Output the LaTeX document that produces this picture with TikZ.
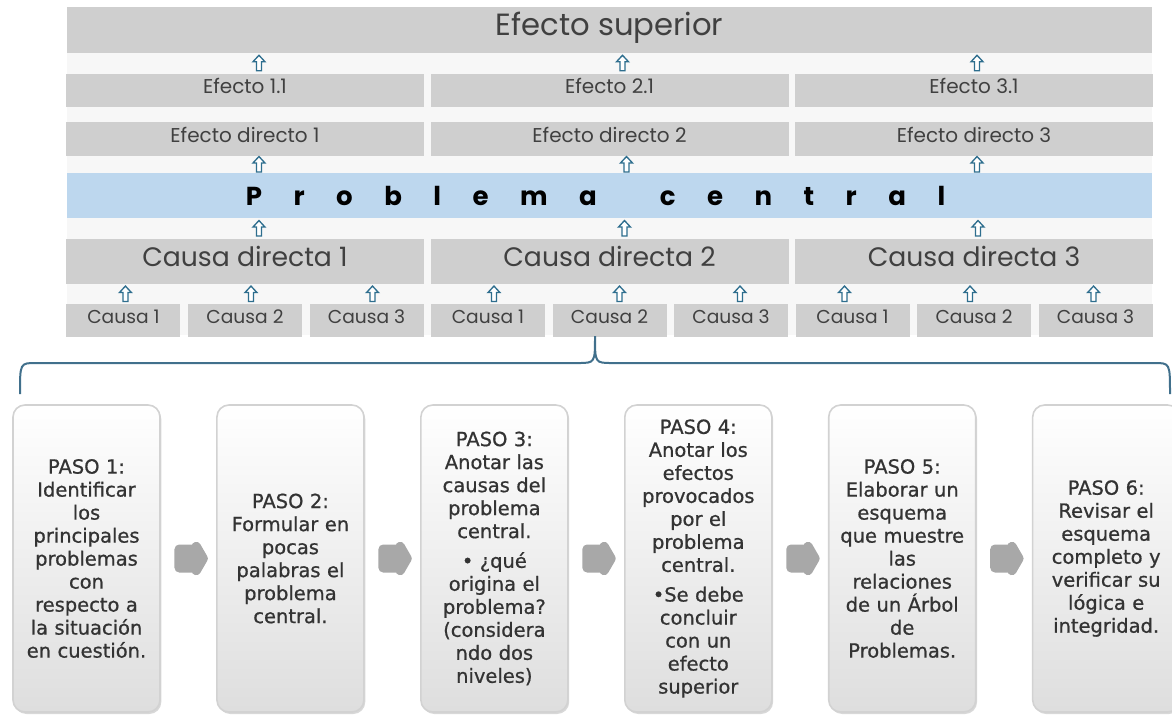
\documentclass[tikz,border=0pt]{standalone}
\usepackage{fontspec}
\setmainfont{Poppins}
\newfontfamily\stepfont[FakeBold=0.8]{DejaVu Sans}
\newfontfamily\spacedfont[LetterSpace=100]{Poppins}
\usetikzlibrary{shapes, arrows.meta, positioning, calc, shadows}

\definecolor{boxgray}{HTML}{CFCFCF}
\definecolor{txtgray}{HTML}{404040}
\definecolor{probblue}{HTML}{BDD7EE}
\definecolor{arrowblue}{HTML}{2E6E8E}
\definecolor{bracecol}{HTML}{41708C}

% small hollow arrow between two levels of the tree
\newcommand{\lift}[3]{\pic at ($(#1)!.5!(#1 |- #2)+(#3,0)$) {uparr};}

\begin{document}
\begin{tikzpicture}[
    x=0.75pt, y=-0.75pt,
    band/.style={rectangle, fill=boxgray, text=txtgray, inner sep=0pt},
    supband/.style={band, minimum width=813.75pt, minimum height=34.5pt, font=\fontsize{23}{26}\selectfont, text height=16.5pt, text depth=8.5pt},
    efband/.style={band, minimum width=268.5pt, minimum height=25pt, font=\fontsize{15}{17}\selectfont, text height=11pt, text depth=6.5pt},
    pcband/.style={band, fill=probblue, text=black, minimum width=813.75pt, minimum height=33.75pt, font=\spacedfont\bfseries\fontsize{19.5}{22}\selectfont},
    cdband/.style={band, minimum width=268.5pt, minimum height=33.75pt, font=\fontsize{20}{23}\selectfont, text height=15pt, text depth=7.8pt},
    caband/.style={band, minimum width=85.5pt, minimum height=24.75pt, font=\fontsize{14}{17}\selectfont, text height=10.5pt, text depth=6.5pt},
    stepbox/.style={rectangle, rounded corners=9pt, draw=gray!35, line width=1.2pt, top color=white, middle color=white, bottom color=black!13, drop shadow={shadow xshift=1pt, shadow yshift=-1.5pt, fill=gray!60, opacity=.5}, minimum width=110.25pt, minimum height=230.25pt, inner sep=1pt, text width=106pt, align=center, font=\stepfont\fontsize{14.6}{17.25}\selectfont, text=black!80},
    blob/.style={single arrow, fill=gray!68, draw=gray!68, line width=7pt, line join=round, minimum width=18pt, minimum height=18pt, single arrow head extend=1pt, single arrow tip angle=120, inner sep=0pt},
    brace/.style={draw=bracecol, line width=1.5pt},
    uparr/.pic={\draw[arrowblue, fill=white, line width=1pt, line join=miter] (0,-8) -- (6,-1.5) -- (2.5,-1.5) -- (2.5,7.5) -- (-2.5,7.5) -- (-2.5,-1.5) -- (-6,-1.5) -- cycle;}
]
    \useasboundingbox (0,0) rectangle (1172,715);
    \clip (0,0) rectangle (1172,715);
    \fill[black!3] (67,7) rectangle (1152,335);

    % tree of problems
    \node[supband] (sup) at (609.5,30) {Efecto superior};
    \node[efband, below=15pt of sup] (ef2) {Efecto 2.1};
    \node[efband, left=4.5pt of ef2] (ef1) {Efecto 1.1};
    \node[efband, right=4.5pt of ef2] (ef3) {Efecto 3.1};
    \node[efband, below=11.25pt of ef2] (ed2) {Efecto directo 2};
    \node[efband, left=4.5pt of ed2] (ed1) {Efecto directo 1};
    \node[efband, right=4.5pt of ed2] (ed3) {Efecto directo 3};
    \node[pcband, below=12.75pt of ed2] (pc) {P r o b l e m a \ c e n t r a l\kern21pt};
    \node[cdband, below=15pt of pc] (cd2) {Causa directa 2};
    \node[cdband, left=4.5pt of cd2] (cd1) {Causa directa 1};
    \node[cdband, right=4.5pt of cd2] (cd3) {Causa directa 3};
    \foreach \i in {1,2,3} {
        \node[caband, below=15pt of cd\i] (ca\i2) {Causa 2};
        \node[caband, left=5.25pt of ca\i2] (ca\i1) {Causa 1};
        \node[caband, right=5.25pt of ca\i2] (ca\i3) {Causa 3};
    }

    \lift{ef1.north}{sup.south}{14}
    \lift{ef2.north}{sup.south}{13}
    \lift{ef3.north}{sup.south}{3}
    \lift{ed1.south}{pc.north}{14}
    \lift{ed2.south}{pc.north}{17}
    \lift{ed3.south}{pc.north}{3}
    \lift{cd1.north}{pc.south}{14}
    \lift{cd2.north}{pc.south}{15}
    \lift{cd3.north}{pc.south}{4}
    \foreach \c/\a/\b/\d in {1/2/6/6, 2/6/10/9, 3/-8/-4/-2} {
        \lift{ca\c1.north}{cd\c.south}{\a}
        \lift{ca\c2.north}{cd\c.south}{\b}
        \lift{ca\c3.north}{cd\c.south}{\d}
    }

    % brace
    \draw[brace] (20,394) .. controls (20,363) .. (36,363) -- (578,363) .. controls (595,363) .. (595,336) .. controls (595,363) .. (612,363) -- (1154,363) .. controls (1170,363) .. (1170,394);

    % steps
    \node[stepbox] (s1) at (86.5,558.5) {PASO 1:\\Identificar\\los\\principales\\problemas\\con\\respecto a\\la situación\\en cuestión.};
    \node[stepbox, right=41.5pt of s1] (s2) {PASO 2:\\Formular en\\pocas\\palabras el\\problema\\central.};
    \node[stepbox, right=41.5pt of s2] (s3) {PASO 3:\\Anotar las\\causas del\\problema\\central.\\[5pt]• ¿qué\\origina el\\problema?\\(considera\\ndo dos\\niveles)\\[12pt]};
    \node[stepbox, right=41.5pt of s3] (s4) {PASO 4:\\Anotar los\\efectos\\provocados\\por el\\problema\\central.\\[5pt]•Se debe\\concluir\\con un\\efecto\\superior};
    \node[stepbox, right=41.5pt of s4] (s5) {PASO 5:\\Elaborar un\\esquema\\que muestre\\las\\relaciones\\de un Árbol\\de\\Problemas.};
    \node[stepbox, right=41.5pt of s5] (s6) {PASO 6:\\Revisar el\\esquema\\completo y\\verificar su\\lógica e\\integridad.};

    \foreach \a/\b in {s1/s2, s2/s3, s3/s4, s4/s5, s5/s6}
        \path (\a) -- node[blob] {} (\b);
\end{tikzpicture}
\end{document}
